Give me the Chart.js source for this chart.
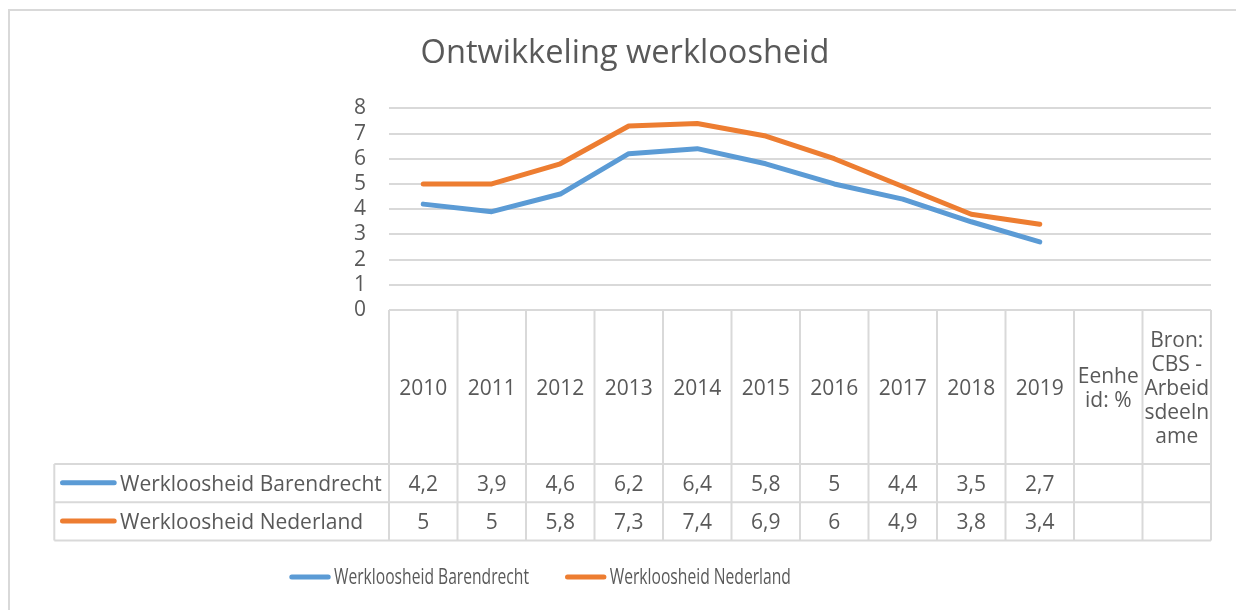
<!DOCTYPE html>
<html>
<head>
<meta charset="utf-8">
<script src="https://cdn.jsdelivr.net/npm/chart.js@4.4.1/dist/chart.umd.min.js"></script>
<style>
  html, body { margin: 0; padding: 0; background: #fff; overflow: hidden; width: 1236px; height: 610px; }
  #frame { position: absolute; left: 8px; top: 9px; width: 1230px; height: 600px;
           border-left: 2px solid #d9d9d9; border-top: 2px solid #d9d9d9; }
  canvas { display: block; }
</style>
</head>
<body>
<div id="frame"><canvas id="chart" width="1230" height="600"></canvas></div>
<script>
// Categories: the years plus two note columns (already broken into lines as in the table header)
const years = ['2010', '2011', '2012', '2013', '2014', '2015', '2016', '2017', '2018', '2019'];
const noteColumns = [['Eenhe', 'id: %'], ['Bron:', 'CBS -', 'Arbeid', 'sdeeln', 'ame']];
const categories = years.concat(noteColumns);

// Unemployment in percent
const barendrecht = [4.2, 3.9, 4.6, 6.2, 6.4, 5.8, 5, 4.4, 3.5, 2.7, null, null];
const nederland   = [5, 5, 5.8, 7.3, 7.4, 6.9, 6, 4.9, 3.8, 3.4, null, null];

// Value axis
const yMin = 0;
const yMax = 8;
const yStep = 1;

const FONT = '"Open Sans", sans-serif';
const TEXT = '#595959';
const RULE = '#d9d9d9';
const BLUE = '#5B9BD5';
const ORANGE = '#ED7D31';

const fmt = v => String(v).replace('.', ',');

// Data table under the plot: header row with categories, one row per series
const dataTable = {
  id: 'dataTable',
  afterDraw(chart) {
    const { ctx, chartArea: a, scales: { x } } = chart;
    const n = chart.data.labels.length;
    const w = (a.right - a.left) / n;
    const top = a.bottom;
    const headH = 154;
    const rowH = 38.3;
    const rowsTop = top + headH;
    const tableLeft = 44.3;
    const rows = chart.data.datasets;
    const bottom = rowsTop + rows.length * rowH;

    ctx.save();
    ctx.strokeStyle = RULE;
    ctx.lineWidth = 2;
    ctx.beginPath();
    ctx.moveTo(a.left, top); ctx.lineTo(a.right, top);
    for (let i = 0; i <= n; i++) {
      const xx = a.left + i * w;
      ctx.moveTo(xx, top); ctx.lineTo(xx, bottom);
    }
    for (let r = 0; r <= rows.length; r++) {
      const yy = rowsTop + r * rowH;
      ctx.moveTo(tableLeft, yy); ctx.lineTo(a.right, yy);
    }
    ctx.moveTo(tableLeft, rowsTop); ctx.lineTo(tableLeft, bottom);
    ctx.stroke();

    ctx.fillStyle = TEXT;
    ctx.font = '21px ' + FONT;
    ctx.textAlign = 'center';
    ctx.textBaseline = 'middle';
    const lh = 24;
    chart.data.labels.forEach((lab, i) => {
      const cx = x.getPixelForValue(i);
      const lines = Array.isArray(lab) ? lab : [lab];
      const cy = top + headH / 2 + 2;
      lines.forEach((ln, k) => ctx.fillText(ln, cx, cy + (k - (lines.length - 1) / 2) * lh));
    });

    rows.forEach((ds, r) => {
      const cy = rowsTop + r * rowH + rowH / 2;
      ctx.strokeStyle = ds.borderColor;
      ctx.lineWidth = 5;
      ctx.lineCap = 'round';
      ctx.beginPath();
      ctx.moveTo(tableLeft + 8.2, cy - 0.5);
      ctx.lineTo(tableLeft + 59.9, cy - 0.5);
      ctx.stroke();
      ctx.textAlign = 'left';
      ctx.fillText(ds.label, tableLeft + 65.7, cy + 1.5);
      ctx.textAlign = 'center';
      ds.data.forEach((v, i) => {
        if (v === null) return;
        ctx.fillText(fmt(v), x.getPixelForValue(i), cy + 2);
      });
    });
    ctx.restore();
  }
};

// Legend below the table, with condensed text
const bottomLegend = {
  id: 'bottomLegend',
  afterDraw(chart) {
    const ctx = chart.ctx;
    ctx.save();
    ctx.font = '21px ' + FONT;
    ctx.textBaseline = 'middle';
    ctx.textAlign = 'left';
    ctx.fillStyle = TEXT;
    let xx = 279.3;
    const y = 566;
    chart.data.datasets.forEach(ds => {
      ctx.strokeStyle = ds.borderColor;
      ctx.lineWidth = 5;
      ctx.lineCap = 'round';
      ctx.beginPath();
      ctx.moveTo(xx + 2.5, y);
      ctx.lineTo(xx + 38.9, y);
      ctx.stroke();
      xx += 44.7;
      const tw = ctx.measureText(ds.label).width * 0.745;
      ctx.fillText(ds.label, xx, y + 1, tw);
      xx += tw + 36;
    });
    ctx.restore();
  }
};

new Chart(document.getElementById('chart'), {
  type: 'line',
  data: {
    labels: categories,
    datasets: [
      { label: 'Werkloosheid Barendrecht', data: barendrecht, borderColor: BLUE, backgroundColor: BLUE,
        borderWidth: 5, pointRadius: 0, tension: 0, borderCapStyle: 'round', borderJoinStyle: 'round' },
      { label: 'Werkloosheid Nederland', data: nederland, borderColor: ORANGE, backgroundColor: ORANGE,
        borderWidth: 5, pointRadius: 0, tension: 0, borderCapStyle: 'round', borderJoinStyle: 'round' }
    ]
  },
  options: {
    responsive: false,
    animation: false,
    events: [],
    layout: { padding: { top: 0, right: 29, bottom: 0, left: 29 } },
    plugins: {
      legend: { display: false },
      tooltip: { enabled: false },
      title: {
        display: true,
        text: 'Ontwikkeling werkloosheid',
        color: TEXT,
        font: { family: FONT, size: 32.6, weight: 'normal', lineHeight: 1.2 },
        padding: { top: 23, bottom: 35.2 }
      }
    },
    scales: {
      x: {
        offset: true,
        grid: { display: false },
        border: { display: false },
        ticks: { display: false },
        afterFit(scale) { scale.height = 301; }
      },
      y: {
        min: yMin,
        max: yMax,
        ticks: { stepSize: yStep, autoSkip: false, color: TEXT, padding: 23, font: { family: FONT, size: 21 } },
        grid: { color: RULE, lineWidth: 2, drawTicks: false },
        border: { display: false },
        afterFit(scale) { scale.width = 350; }
      }
    }
  },
  plugins: [dataTable, bottomLegend]
});
</script>
</body>
</html>
